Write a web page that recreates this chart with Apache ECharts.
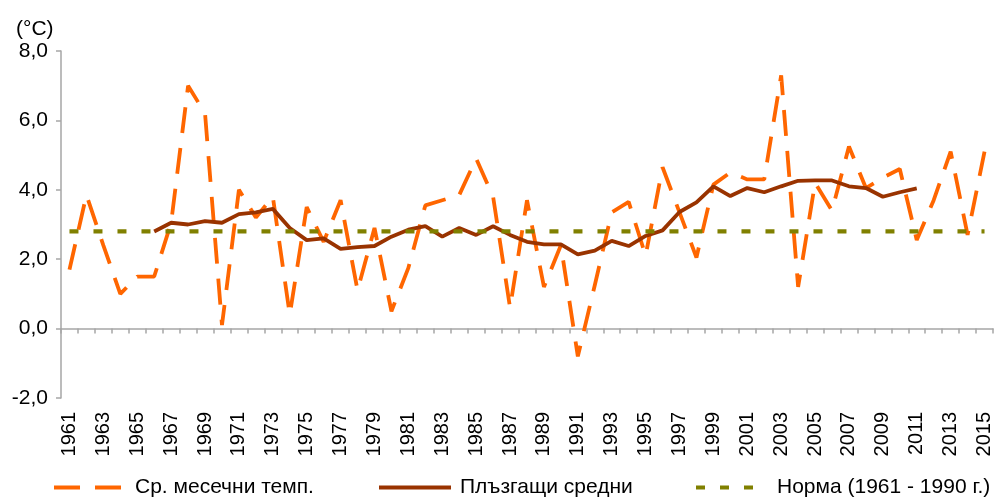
<!DOCTYPE html>
<html>
<head>
<meta charset="utf-8">
<script src="https://cdn.jsdelivr.net/npm/echarts@6/dist/echarts.min.js"></script>
<style>
body { margin: 0; background: #fff; }
#chart { width: 997px; height: 497px; }
</style>
</head>
<body>
<div id="chart"></div>
<script>
// години
const years = ['1961', '1962', '1963', '1964', '1965', '1966', '1967', '1968', '1969', '1970',
    '1971', '1972', '1973', '1974', '1975', '1976', '1977', '1978', '1979', '1980',
    '1981', '1982', '1983', '1984', '1985', '1986', '1987', '1988', '1989', '1990',
    '1991', '1992', '1993', '1994', '1995', '1996', '1997', '1998', '1999', '2000',
    '2001', '2002', '2003', '2004', '2005', '2006', '2007', '2008', '2009', '2010',
    '2011', '2012', '2013', '2014', '2015']

// Ср. месечни темп.
const monthlyTemp = [1.7, 3.85, 2.4, 1.0, 1.5, 1.5, 3.05, 7.0, 6.2, 0.1,
    4.0, 3.2, 3.8, 0.4, 3.5, 2.5, 3.7, 1.1, 2.9, 0.5,
    1.75, 3.55, 3.7, 3.85, 4.9, 3.8, 0.6, 3.7, 1.2, 2.4,
    -0.8, 1.25, 3.35, 3.65, 2.1, 4.65, 3.35, 2.05, 4.15, 4.5,
    4.3, 4.3, 7.3, 1.2, 4.2, 3.4, 5.25, 4.05, 4.35, 4.6,
    2.55, 3.7, 5.1, 2.7, 5.1]

// Плъзгащи средни (1966 - 2011)
const movingAvg = [null, null, null, null, null,
    2.8, 3.05, 3.0, 3.1, 3.05,
    3.3, 3.35, 3.45, 2.9, 2.55, 2.6, 2.3, 2.35, 2.38, 2.65,
    2.85, 2.95, 2.65, 2.9, 2.7, 2.95, 2.7, 2.5, 2.43, 2.43,
    2.14, 2.25, 2.53, 2.38, 2.67, 2.83, 3.36, 3.64, 4.1, 3.82,
    4.05, 3.93, 4.1, 4.26, 4.27, 4.27, 4.1, 4.05, 3.8, 3.93,
    4.04, null, null, null, null]

// Норма (1961 - 1990 г.)
const normValue = 2.8
const normLine = years.map(() => normValue)

const yTicks = { min: -2, max: 8, interval: 2 }

const font = 'Liberation Sans, Arial, sans-serif'

// по една легенда за всяка серия, за да се подредят като в оригинала
function makeLegend(name, left) {
    return {
        data: [name],
        left: left,
        top: 472,
        itemWidth: 72,
        itemHeight: 14,
        itemStyle: { opacity: 0 },
        lineStyle: { width: 4 },
        textStyle: { fontFamily: font, fontSize: 21, color: '#000', padding: [0, 0, 0, 4] }
    }
}

let chartDom = document.getElementById('chart')
let myChart = echarts.init(chartDom)
let option = {
    animation: false,
    title: {
        text: '(°C)',
        left: 11,
        top: 14,
        textStyle: { fontFamily: font, fontSize: 21, fontWeight: 'normal', color: '#000' }
    },
    grid: { left: 61, right: 4, top: 51, bottom: 99, outerBoundsMode: 'none', containLabel: false },
    legend: [
        makeLegend('Ср. месечни темп.', 47),
        makeLegend('Плъзгащи средни', 372),
        makeLegend('Норма (1961 - 1990 г.)', 689)
    ],
    xAxis: {
        type: 'category',
        data: years,
        boundaryGap: true,
        axisLine: { onZero: true, lineStyle: { color: '#a6a6a6', width: 1.5 } },
        axisTick: { show: true, interval: 0, length: 5, lineStyle: { color: '#a6a6a6', width: 1.5 } },
        axisLabel: {
            interval: 1,
            rotate: 90,
            margin: 14,
            fontFamily: font,
            fontSize: 20,
            color: '#000'
        },
        splitLine: { show: false }
    },
    yAxis: {
        type: 'value',
        min: yTicks.min,
        max: yTicks.max,
        interval: yTicks.interval,
        axisLine: { show: true, lineStyle: { color: '#a6a6a6', width: 1.5 } },
        axisTick: { show: true, length: 5, lineStyle: { color: '#a6a6a6', width: 1.5 } },
        axisLabel: {
            margin: 13,
            fontFamily: font,
            fontSize: 21,
            color: '#000',
            formatter: v => v.toFixed(1).replace('.', ',')
        },
        splitLine: { show: false }
    },
    series: [
        {
            name: 'Ср. месечни темп.',
            type: 'line',
            data: monthlyTemp,
            showSymbol: false,
            symbol: 'none',
            color: '#ff6600',
            lineStyle: { color: '#ff6600', width: 3.8, type: [26, 15] }
        },
        {
            name: 'Плъзгащи средни',
            type: 'line',
            data: movingAvg,
            showSymbol: false,
            symbol: 'none',
            color: '#993300',
            lineStyle: { color: '#993300', width: 3.8 }
        },
        {
            name: 'Норма (1961 - 1990 г.)',
            type: 'line',
            data: normLine,
            showSymbol: false,
            symbol: 'none',
            color: '#808000',
            lineStyle: { color: '#808000', width: 4.2, type: [9, 15] }
        }
    ]
}

option && myChart.setOption(option)
</script>
</body>
</html>
